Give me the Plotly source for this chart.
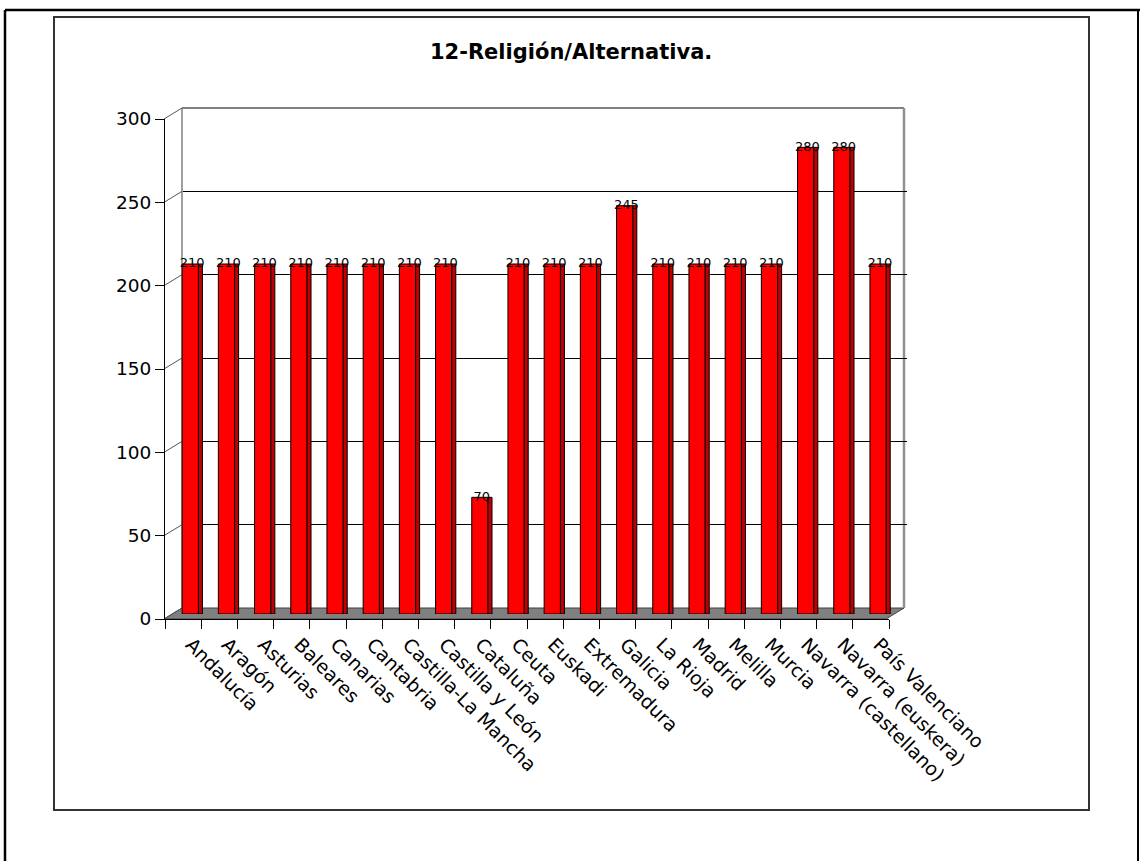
import plotly.graph_objects as go

categories = ["Andalucía", "Aragón", "Asturias", "Baleares", "Canarias", "Cantabria",
              "Castilla-La Mancha", "Castilla y León", "Cataluña", "Ceuta", "Euskadi",
              "Extremadura", "Galicia", "La Rioja", "Madrid", "Melilla", "Murcia",
              "Navarra (castellano)", "Navarra (euskera)", "País Valenciano"]
values = [210, 210, 210, 210, 210, 210, 210, 210, 70, 210, 210, 210, 245, 210, 210,
          210, 210, 280, 280, 210]
y_ticks = [0, 50, 100, 150, 200, 250, 300]
title_text = "12-Religión/Alternativa."

W, H = 1140, 861
def fx(px):
    return px / W
def fy(py):
    return 1 - py / H

# geometry (page pixels)
FX0, FX1 = 165, 889          # front category span
FY0, FY300 = 619, 119        # front value axis
DX, DY = 18, -11             # depth offset to back wall
N = len(categories)
xr = [-0.5, N - 0.5]

FONT = "DejaVu Sans"
fig = go.Figure()

# back wall gridlines subplot (x, y)
fig.add_trace(go.Scatter(x=categories, y=values, mode="markers", marker=dict(opacity=0),
                         hoverinfo="skip", showlegend=False, xaxis="x", yaxis="y"))
# front axis subplot (x2, y2)
fig.add_trace(go.Scatter(x=categories, y=values, mode="markers", marker=dict(opacity=0),
                         hoverinfo="skip", showlegend=False, xaxis="x2", yaxis="y2"))
# bars subplot (x3, y3)
fig.add_trace(go.Bar(x=categories, y=values, width=0.45, offset=-0.275,
                     marker=dict(color="#FF0000", line=dict(color="#000000", width=1)),
                     showlegend=False, xaxis="x3", yaxis="y3"))
fig.add_trace(go.Bar(x=categories, y=values, width=0.11, offset=0.175,
                     marker=dict(color="#C00000", line=dict(color="#000000", width=1)),
                     showlegend=False, xaxis="x3", yaxis="y3"))
fig.add_trace(go.Scatter(x=categories, y=values, mode="text", text=[str(v) for v in values],
                         textposition="middle center",
                         textfont=dict(family=FONT, size=13, color="#000000"),
                         showlegend=False, cliponaxis=False, xaxis="x3", yaxis="y3"))

shapes = []
# outer frame
shapes.append(dict(type="line", xref="paper", yref="paper", x0=fx(5), x1=fx(1140), y0=fy(10), y1=fy(10),
                   line=dict(color="#000000", width=2.5)))
shapes.append(dict(type="line", xref="paper", yref="paper", x0=fx(5), x1=fx(5), y0=fy(10), y1=fy(861),
                   line=dict(color="#000000", width=2.5)))
shapes.append(dict(type="line", xref="paper", yref="paper", x0=fx(1138), x1=fx(1138), y0=fy(10), y1=fy(861),
                   line=dict(color="#000000", width=2)))
# inner chart frame
shapes.append(dict(type="rect", xref="paper", yref="paper", x0=fx(54), x1=fx(1089), y0=fy(810), y1=fy(17),
                   line=dict(color="#333333", width=2), layer="below"))
# floor
bx0, bx1 = FX0 - 1 + DX, FX1 - 3 + DX
path = "M {} {} L {} {} L {} {} L {} {} Z".format(
    fx(FX0 - 1), fy(FY0), fx(FX1 - 3), fy(FY0), fx(bx1), fy(FY0 + DY), fx(bx0), fy(FY0 + DY))
shapes.append(dict(type="path", xref="paper", yref="paper", path=path,
                   fillcolor="#808080", line=dict(color="#404040", width=1), layer="below"))
# back wall border
shapes.append(dict(type="line", xref="paper", yref="paper", x0=fx(bx0), x1=fx(bx1),
                   y0=fy(FY300 + DY), y1=fy(FY300 + DY), line=dict(color="#808080", width=2), layer="below"))
shapes.append(dict(type="line", xref="paper", yref="paper", x0=fx(bx1), x1=fx(bx1),
                   y0=fy(FY300 + DY), y1=fy(FY0 + DY), line=dict(color="#909090", width=2.5), layer="below"))
shapes.append(dict(type="line", xref="paper", yref="paper", x0=fx(bx0), x1=fx(bx0),
                   y0=fy(FY300 + DY), y1=fy(FY0 + DY), line=dict(color="#808080", width=1.5), layer="below"))
# side wall diagonals at each tick
for v in y_ticks:
    py = FY0 - (FY0 - FY300) * v / 300
    shapes.append(dict(type="line", xref="paper", yref="paper", x0=fx(FX0 - 1), x1=fx(bx0),
                       y0=fy(py), y1=fy(py + DY), line=dict(color="#555555", width=1), layer="below"))

fig.update_layout(
    width=W, height=H,
    margin=dict(l=0, r=0, t=0, b=0),
    paper_bgcolor="#FFFFFF",
    plot_bgcolor="rgba(0,0,0,0)",
    barmode="overlay",
    showlegend=False,
    shapes=shapes,
    annotations=[dict(text="<b>" + title_text + "</b>", xref="paper", yref="paper",
                      x=fx(571), y=fy(52), xanchor="center", yanchor="middle", showarrow=False,
                      font=dict(family=FONT, size=21, color="#000000"))],
    # back wall
    xaxis=dict(domain=[fx(FX0 + DX), fx(FX1 + DX)], anchor="y", type="category", range=xr,
               visible=False, fixedrange=True),
    yaxis=dict(domain=[fy(FY0 + DY), fy(FY300 + DY)], anchor="x", range=[0, 300], dtick=50,
               showgrid=True, gridcolor="#000000", gridwidth=1, showticklabels=False, ticks="",
               showline=False, zeroline=False, fixedrange=True),
    # front axes
    xaxis2=dict(domain=[fx(FX0), fx(FX1)], anchor="y2", type="category", range=xr,
                tickson="boundaries", ticks="outside", ticklen=9, tickcolor="#000000",
                tickangle=45, tickfont=dict(family=FONT, size=19, color="#000000"),
                ticklabelstandoff=6, ticklabelshift=8,
                showline=True, linecolor="#000000", linewidth=1,
                showgrid=False, automargin=False, fixedrange=True),
    yaxis2=dict(domain=[fy(FY0), fy(FY300)], anchor="x2", range=[0, 300], tickvals=y_ticks,
                ticks="outside", ticklen=9, tickcolor="#000000",
                tickfont=dict(family=FONT, size=18.5, color="#000000"),
                showline=True, linecolor="#000000", linewidth=1, showgrid=False, zeroline=False,
                automargin=False, fixedrange=True),
    # bars
    xaxis3=dict(domain=[fx(FX0 + 9), fx(FX1 + 9)], anchor="y3", type="category", range=xr,
                visible=False, fixedrange=True),
    yaxis3=dict(domain=[fy(FY0 - 5), fy(FY300 - 5)], anchor="x3", range=[0, 300],
                visible=False, fixedrange=True),
)

fig.write_html("out.html", config={"displayModeBar": False},
               post_script="document.body.style.margin='0';document.body.style.overflow='hidden';")
